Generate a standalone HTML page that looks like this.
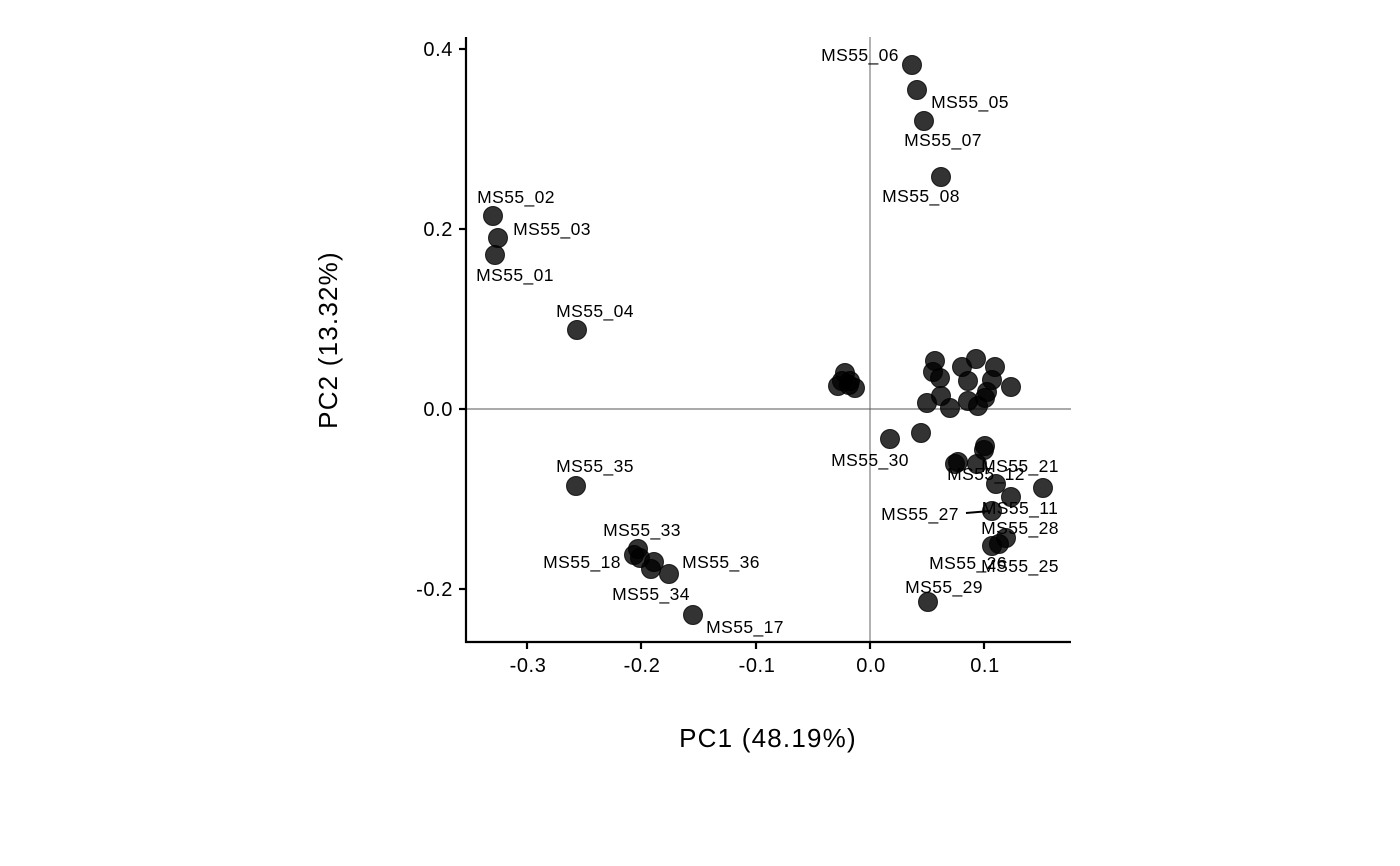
<!DOCTYPE html>
<html><head><style>body{margin:0;background:#fff}svg{display:block}</style></head><body>
<svg width="1400" height="866" xmlns="http://www.w3.org/2000/svg" font-family="Liberation Sans, Arial, sans-serif">
<rect width="1400" height="866" fill="#fff"/>
<line x1="870" y1="37" x2="870" y2="642" stroke="#555" stroke-width="0.9"/>
<line x1="466" y1="409" x2="1071" y2="409" stroke="#555" stroke-width="0.9"/>
<line x1="966" y1="513" x2="990" y2="511" stroke="#000" stroke-width="2"/>
<g fill="#000" fill-opacity="0.8" stroke="#000" stroke-opacity="0.8" stroke-width="1">
<circle cx="912" cy="65" r="9.5"/><circle cx="917" cy="90" r="9.5"/><circle cx="924" cy="121" r="9.5"/><circle cx="941" cy="177" r="9.5"/>
<circle cx="493" cy="216" r="9.5"/><circle cx="498" cy="238" r="9.5"/><circle cx="495" cy="255" r="9.5"/><circle cx="577" cy="330" r="9.5"/>
<circle cx="576" cy="486" r="9.5"/><circle cx="638" cy="549" r="9.5"/><circle cx="634" cy="555" r="9.5"/><circle cx="640" cy="558" r="9.5"/><circle cx="654" cy="562" r="9.5"/><circle cx="651" cy="569" r="9.5"/><circle cx="669" cy="574" r="9.5"/><circle cx="693" cy="615" r="9.5"/>
<circle cx="838" cy="386" r="9.5"/><circle cx="845" cy="373" r="9.5"/><circle cx="850" cy="381" r="9.5"/><circle cx="855" cy="388" r="9.5"/><circle cx="842" cy="381" r="9.5"/><circle cx="849" cy="385" r="9.5"/>
<circle cx="935" cy="361" r="9.5"/><circle cx="933" cy="372" r="9.5"/><circle cx="940" cy="378" r="9.5"/><circle cx="962" cy="367" r="9.5"/><circle cx="976" cy="359" r="9.5"/><circle cx="995" cy="367" r="9.5"/><circle cx="968" cy="381" r="9.5"/><circle cx="992" cy="380" r="9.5"/><circle cx="1011" cy="387" r="9.5"/><circle cx="941" cy="396" r="9.5"/><circle cx="927" cy="403" r="9.5"/><circle cx="950" cy="408" r="9.5"/><circle cx="968" cy="401" r="9.5"/><circle cx="985" cy="398" r="9.5"/><circle cx="987" cy="392" r="9.5"/><circle cx="978" cy="406" r="9.5"/>
<circle cx="890" cy="439" r="9.5"/><circle cx="921" cy="433" r="9.5"/><circle cx="985" cy="446" r="9.5"/><circle cx="984" cy="450" r="9.5"/>
<circle cx="955" cy="464" r="9.5"/><circle cx="958" cy="462" r="9.5"/><circle cx="977" cy="464" r="9.5"/>
<circle cx="996" cy="484" r="9.5"/><circle cx="1043" cy="488" r="9.5"/><circle cx="1011" cy="497" r="9.5"/><circle cx="992" cy="511" r="9.5"/><circle cx="1006" cy="538" r="9.5"/><circle cx="999" cy="544" r="9.5"/><circle cx="992" cy="546" r="9.5"/>
<circle cx="928" cy="602" r="9.5"/>
</g>
<g font-size="17.5" letter-spacing="0.4" fill="#000" text-anchor="middle">
<text x="860" y="61">MS55_06</text><text x="970" y="108">MS55_05</text><text x="943" y="146">MS55_07</text><text x="921" y="202">MS55_08</text>
<text x="516" y="203">MS55_02</text><text x="552" y="235">MS55_03</text><text x="515" y="281">MS55_01</text><text x="595" y="317">MS55_04</text>
<text x="595" y="472">MS55_35</text><text x="642" y="536">MS55_33</text><text x="582" y="568">MS55_18</text><text x="721" y="568">MS55_36</text><text x="651" y="600">MS55_34</text><text x="745" y="633">MS55_17</text>
<text x="870" y="466">MS55_30</text><text x="986" y="480">MS55_12</text><text x="1020" y="472">MS55_21</text><text x="920" y="520">MS55_27</text><text x="1020" y="514">MS55_11</text><text x="1020" y="534">MS55_28</text><text x="968" y="569">MS55_26</text><text x="1020" y="572">MS55_25</text><text x="944" y="593">MS55_29</text>
</g>
<g stroke="#000" stroke-width="2.2" fill="none">
<polyline points="466,37 466,642 1071,642"/>
<line x1="459" y1="49" x2="466" y2="49"/><line x1="459" y1="229" x2="466" y2="229"/><line x1="459" y1="409" x2="466" y2="409"/><line x1="459" y1="589" x2="466" y2="589"/>
<line x1="527" y1="642" x2="527" y2="649"/><line x1="641" y1="642" x2="641" y2="649"/><line x1="756" y1="642" x2="756" y2="649"/><line x1="870" y1="642" x2="870" y2="649"/><line x1="984" y1="642" x2="984" y2="649"/>
</g>
<g font-size="20" letter-spacing="0.6" fill="#000">
<g text-anchor="end"><text x="453" y="56">0.4</text><text x="453" y="236">0.2</text><text x="453" y="416">0.0</text><text x="453" y="596">-0.2</text></g>
<g text-anchor="middle"><text x="528" y="672">-0.3</text><text x="642" y="672">-0.2</text><text x="757" y="672">-0.1</text><text x="871" y="672">0.0</text><text x="985" y="672">0.1</text></g>
</g>
<text x="768" y="747" font-size="26" letter-spacing="1.2" text-anchor="middle">PC1 (48.19%)</text>
<text transform="translate(337,340) rotate(-90)" font-size="26" letter-spacing="1.2" text-anchor="middle">PC2 (13.32%)</text>
</svg>
</body></html>
